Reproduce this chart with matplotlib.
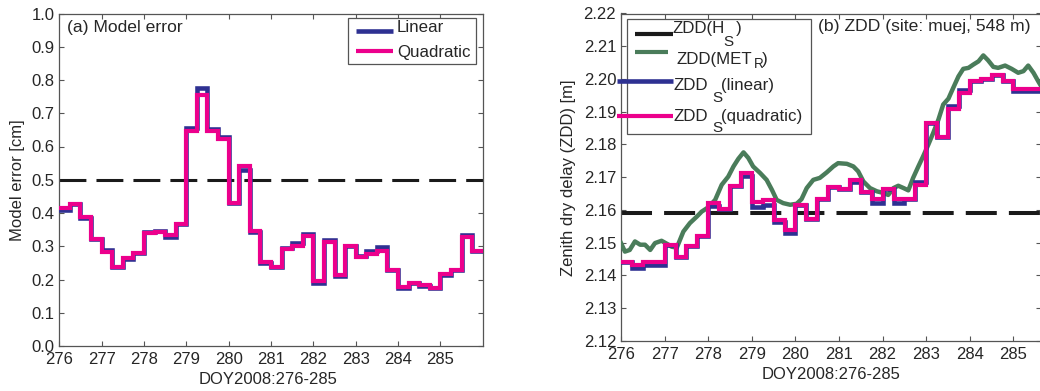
import numpy as np
import matplotlib
matplotlib.use('Agg')
import matplotlib.pyplot as plt
from matplotlib.lines import Line2D
from matplotlib.patches import Rectangle

plt.rcParams['font.family'] = ['Liberation Sans', 'DejaVu Sans']

# ---------------- data ----------------
doy_start = 276.0
step_days = 0.25

err_linear = [0.409, 0.427, 0.386, 0.322, 0.289, 0.237, 0.261, 0.279, 0.342, 0.346,
              0.327, 0.367, 0.656, 0.775, 0.653, 0.630, 0.429, 0.530, 0.342, 0.249,
              0.237, 0.294, 0.310, 0.337, 0.190, 0.320, 0.212, 0.302, 0.271, 0.285,
              0.297, 0.230, 0.175, 0.190, 0.181, 0.175, 0.214, 0.229, 0.334, 0.287]
err_quadratic = [0.416, 0.427, 0.388, 0.322, 0.283, 0.237, 0.264, 0.279, 0.340, 0.344,
                 0.334, 0.367, 0.646, 0.755, 0.646, 0.623, 0.429, 0.540, 0.347, 0.252,
                 0.237, 0.292, 0.302, 0.332, 0.194, 0.314, 0.215, 0.302, 0.267, 0.277,
                 0.287, 0.230, 0.177, 0.190, 0.184, 0.175, 0.217, 0.229, 0.327, 0.287]
err_threshold = 0.5

zdd_linear = [2.1441, 2.1424, 2.1432, 2.1432, 2.1494, 2.1455, 2.1491, 2.1522, 2.1612, 2.1603,
              2.1672, 2.1703, 2.1608, 2.1614, 2.1562, 2.1531, 2.1614, 2.1572, 2.1633, 2.1670,
              2.1664, 2.1684, 2.1654, 2.1621, 2.1664, 2.1621, 2.1633, 2.1685, 2.1866, 2.1823,
              2.1917, 2.1966, 2.1993, 2.2001, 2.2013, 2.1993, 2.1962, 2.1962, 2.1962, 2.1962]
zdd_quadratic = [2.1441, 2.1432, 2.1441, 2.1441, 2.1494, 2.1455, 2.1491, 2.1522, 2.1622, 2.1603,
                 2.1672, 2.1712, 2.1625, 2.1632, 2.1570, 2.1539, 2.1614, 2.1572, 2.1633, 2.1670,
                 2.1664, 2.1692, 2.1654, 2.1633, 2.1664, 2.1633, 2.1633, 2.1677, 2.1866, 2.1823,
                 2.1909, 2.1958, 2.1993, 2.2001, 2.2013, 2.1993, 2.1970, 2.1970, 2.1970, 2.1970]
zdd_hs = 2.159

met_doy = [276.00, 276.09, 276.20, 276.32, 276.44, 276.55, 276.67, 276.78, 276.93, 277.09,
           277.16, 277.28, 277.43, 277.58, 277.74, 277.85, 278.00, 278.16, 278.31, 278.46,
           278.58, 278.69, 278.81, 278.92, 279.03, 279.19, 279.34, 279.46, 279.57, 279.72,
           279.88, 280.03, 280.14, 280.26, 280.41, 280.56, 280.72, 280.87, 280.98, 281.18,
           281.33, 281.44, 281.56, 281.71, 281.87, 282.02, 282.13, 282.25, 282.36, 282.48,
           282.59, 282.70, 282.82, 282.93, 283.05, 283.16, 283.28, 283.39, 283.51, 283.62,
           283.74, 283.85, 283.97, 284.08, 284.20, 284.31, 284.42, 284.54, 284.65, 284.81,
           284.96, 285.11, 285.23, 285.34, 285.46, 285.57, 285.65]
met_zdd = [2.1499, 2.1473, 2.1478, 2.1504, 2.1494, 2.1494, 2.1478, 2.1499, 2.1506, 2.1494,
           2.1488, 2.1485, 2.1534, 2.1560, 2.1580, 2.1595, 2.1608, 2.1631, 2.1677, 2.1702,
           2.1733, 2.1756, 2.1776, 2.1759, 2.1733, 2.1713, 2.1692, 2.1662, 2.1631, 2.1621,
           2.1616, 2.1619, 2.1633, 2.1667, 2.1692, 2.1698, 2.1715, 2.1733, 2.1743, 2.1741,
           2.1733, 2.1718, 2.1687, 2.1667, 2.1657, 2.1652, 2.1646, 2.1667, 2.1674, 2.1667,
           2.1660, 2.1698, 2.1733, 2.1764, 2.1800, 2.1835, 2.1876, 2.1922, 2.1940, 2.1973,
           2.2008, 2.2031, 2.2034, 2.2044, 2.2054, 2.2072, 2.2057, 2.2037, 2.2034, 2.2041,
           2.2031, 2.2019, 2.2024, 2.2041, 2.2019, 2.1993, 2.1975]

xticks = [276, 277, 278, 279, 280, 281, 282, 283, 284, 285]
yticks_err = [0.0, 0.1, 0.2, 0.3, 0.4, 0.5, 0.6, 0.7, 0.8, 0.9, 1.0]
yticks_zdd = [2.12, 2.13, 2.14, 2.15, 2.16, 2.17, 2.18, 2.19, 2.20, 2.21, 2.22]

# ---------------- style ----------------
C_BLUE = '#2e3192'
C_PINK = '#ec008c'
C_GREEN = '#4a7c5a'
C_BLACK = '#1a1a1a'
C_SPINE = '#555555'
C_TEXT = '#262626'
FS_TICK = 12.0
FS_LABEL = 12.0
FS_TITLE = 12.6
FS_LEG = 12.2

W, H = 1040, 391
fig = plt.figure(figsize=(W / 100, H / 100), dpi=100)


def fx(px):
    return px / W


def fy(py):
    return 1 - py / H


axL = fig.add_axes([fx(59.3), fy(346), (482.7 - 59.3) / W, (346 - 13.5) / H])
axR = fig.add_axes([fx(621), fy(341), (1041 - 621) / W, (341 - 13.5) / H])

for ax in (axL, axR):
    for s in ax.spines.values():
        s.set_color(C_SPINE)
        s.set_linewidth(0.9)
    ax.tick_params(direction='in', top=True, right=True, length=3.6, width=0.8,
                   color=C_SPINE, labelcolor=C_TEXT, labelsize=FS_TICK, pad=3.5)
    ax.tick_params(axis='x', pad=4.6)
    ax.set_xticks(xticks)

edges = doy_start + step_days * np.arange(len(err_linear) + 1)

# ---- left panel ----
axL.step(edges, err_linear + [err_linear[-1]], where='post', color=C_BLUE, lw=3.3,
         solid_joinstyle='miter', zorder=3)
axL.step(edges, err_quadratic + [err_quadratic[-1]], where='post', color=C_PINK, lw=3.0,
         solid_joinstyle='miter', zorder=4)
axL.axhline(err_threshold, color=C_BLACK, lw=2.2, dashes=(8.8, 3.3), zorder=2)
axL.set_xlim(276, 286)
axL.set_ylim(0, 1.0)
axL.set_yticks(yticks_err)
axL.set_yticklabels([f'{v:.1f}' for v in yticks_err])
axL.set_xlabel('DOY2008:276-285', fontsize=FS_LABEL, color=C_TEXT)
axL.set_ylabel('Model error [cm]', fontsize=FS_LABEL, color=C_TEXT)
axL.xaxis.set_label_coords(0.493, -0.077)
axL.yaxis.set_label_coords(-0.082, 0.5)

# ---- right panel ----
axR.axhline(zdd_hs, color=C_BLACK, lw=2.9, dashes=(7.7, 3.0), zorder=2)
axR.plot(met_doy, met_zdd, color=C_GREEN, lw=3.2, zorder=3)
axR.step(edges, zdd_linear + [zdd_linear[-1]], where='post', color=C_BLUE, lw=3.3,
         solid_joinstyle='miter', zorder=4)
axR.step(edges, zdd_quadratic + [zdd_quadratic[-1]], where='post', color=C_PINK, lw=3.0,
         solid_joinstyle='miter', zorder=5)
axR.set_xlim(276, 276 + (1041 - 621) / 43.6)
axR.set_ylim(2.12, 2.22)
axR.set_yticks(yticks_zdd)
axR.set_yticklabels([f'{v:.2f}' for v in yticks_zdd])
axR.set_xlabel('DOY2008:276-285', fontsize=FS_LABEL, color=C_TEXT)
axR.set_ylabel('Zenith dry delay (ZDD) [m]', fontsize=FS_LABEL, color=C_TEXT)
axR.xaxis.set_label_coords(0.5, -0.078)
axR.yaxis.set_label_coords(-0.107, 0.5)

# ---- panel titles ----
fig.text(fx(66.7), fy(31.7), '(a) Model error', fontsize=FS_TITLE, color=C_TEXT,
         ha='left', va='baseline')
fig.text(fx(817.7), fy(30.7), '(b) ZDD (site: muej, 548 m)', fontsize=FS_TITLE,
         color=C_TEXT, ha='left', va='baseline')


def fig_line(x0, x1, y, color, lw):
    fig.add_artist(Line2D([fx(x0), fx(x1)], [fy(y), fy(y)], transform=fig.transFigure,
                          color=color, lw=lw, solid_capstyle='butt', zorder=6))


def fig_box(x0, y0, x1, y1):
    fig.add_artist(Rectangle((fx(x0), fy(y1)), (x1 - x0) / W, (y1 - y0) / H,
                             transform=fig.transFigure, fc='white', ec=C_SPINE,
                             lw=0.9, zorder=5))


def fig_txt(x, y, s, size=FS_LEG):
    fig.text(fx(x), fy(y), s, fontsize=size, color=C_TEXT, ha='left', va='baseline',
             zorder=7)


# ---- left legend ----
fig_box(348, 18, 476, 64)
fig_line(356, 393, 31, C_BLUE, 3.3)
fig_line(356, 393, 51, C_PINK, 3.0)
fig_txt(397, 32.3, 'Linear')
fig_txt(397, 56.5, 'Quadratic')

# ---- right legend ----
fig_box(627.3, 19, 811, 134)
fig_line(635, 672.7, 34.3, C_BLACK, 3.0)
fig_line(635, 668, 51.7, C_GREEN, 3.0)
fig_line(616.7, 672.7, 81, C_BLUE, 3.3)
fig_line(616.7, 672.7, 116, C_PINK, 3.0)
fig_txt(672.7, 33.3, 'ZDD(H')
fig_txt(723, 46, 'S', FS_LEG * 0.9)
fig_txt(736, 33.3, ')')
fig_txt(676.7, 64.3, 'ZDD(MET')
fig_txt(753.5, 68.3, 'R', FS_LEG * 0.8)
fig_txt(761.5, 64.3, ')')
fig_txt(673, 90, 'ZDD')
fig_txt(712.7, 101.7, 'S', FS_LEG * 0.9)
fig_txt(721.5, 90, '(linear)')
fig_txt(673, 120.7, 'ZDD')
fig_txt(712.7, 131.5, 'S', FS_LEG * 0.9)
fig_txt(721.5, 120.7, '(quadratic)')

fig.savefig('out.png', dpi=100)
